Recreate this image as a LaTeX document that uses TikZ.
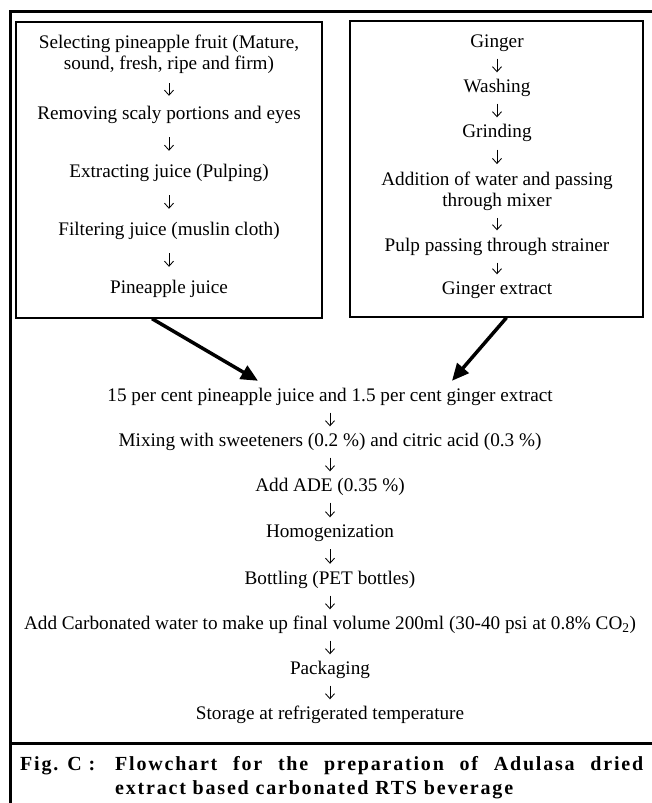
\documentclass[tikz,border=0pt]{standalone}
\usepackage{fontspec}
\setmainfont{Liberation Serif}
\newfontfamily\capfont[LetterSpace=9]{Liberation Serif}
\usetikzlibrary{arrows.meta}
\begin{document}
\begin{tikzpicture}[x=1pt,y=-1pt,
  txt/.style={font=\fontsize{19.2}{20.5}\selectfont, inner sep=0pt, text height=13.5pt, text depth=4.5pt},
  txtb/.style={font=\fontsize{19.2}{20.8}\selectfont, inner sep=0pt, align=center},
  stepbox/.style={draw, line width=1.3pt, inner sep=0pt},
  flowarr/.style={line width=0.85pt, -{Straight Barb[length=5pt,width=9pt]}, shorten <=#1, shorten >=#1},
  bigarr/.style={line width=3.5pt, -{Triangle[length=17pt,width=15pt]}},
  frameline/.style={line width=3pt},
  captxt/.style={font=\capfont\bfseries\fontsize{20}{22}\selectfont, inner sep=0pt}]
\useasboundingbox (0,0) rectangle (652,803);

% outer frame
\draw[frameline] (10,803) -- (10,11.5) -- (652,11.5);
\draw[frameline] (10,743) -- (652,743);

% boxes
\node[stepbox, minimum width=306pt, minimum height=296pt] (lbox) at (169,170) {};
\node[stepbox, minimum width=293pt, minimum height=296pt] (rbox) at (496.5,169) {};

% left box
\node[txtb] (l1) at (169,54) {Selecting pineapple fruit (Mature,\\sound, fresh, ripe and firm)};
\node[txt] (l2) at (169,115) {Removing scaly portions and eyes};
\node[txt] (l3) at (169,173) {Extracting juice (Pulping)};
\node[txt] (l4) at (169,231) {Filtering juice (muslin cloth)};
\node[txt] (l5) at (169,289) {Pineapple juice};
\draw[flowarr=10pt] (l1) -- (l2);
\draw[flowarr=13pt] (l2) -- (l3);
\draw[flowarr=13pt] (l3) -- (l4);
\draw[flowarr=13pt] (l4) -- (l5);

% right box
\node[txt] (r1) at (497,43) {Ginger};
\node[txt] (r2) at (497,88) {Washing};
\node[txt] (r3) at (497,133) {Grinding};
\node[txtb] (r4) at (497,191) {Addition of water and passing\\through mixer};
\node[txt] (r5) at (497,247) {Pulp passing through strainer};
\node[txt] (r6) at (497,290) {Ginger extract};
\draw[flowarr=6.5pt] (r1) -- (r2);
\draw[flowarr=6.5pt] (r2) -- (r3);
\draw[flowarr=7.5pt] (r3) -- (r4);
\draw[flowarr=7.5pt] (r4) -- (r5);
\draw[flowarr=6.5pt] (r5) -- (r6);

% main flow
\node[txt] (m1) at (330,397) {15 per cent pineapple juice and 1.5 per cent ginger extract};
\node[txt] (m2) at (330,442) {Mixing with sweeteners (0.2 \%) and citric acid (0.3 \%)};
\node[txt] (m3) at (330,487) {Add ADE (0.35 \%)};
\node[txt] (m4) at (330,533) {Homogenization};
\node[txt] (m5) at (330,580) {Bottling (PET bottles)};
\node[txt] (m6) at (330,625) {Add Carbonated water to make up final volume 200ml (30-40 psi at 0.8\% CO\textsubscript{2})};
\node[txt] (m7) at (330,670) {Packaging};
\node[txt] (m8) at (330,715) {Storage at refrigerated temperature};
\draw[flowarr=6.5pt] (m1) -- (m2);
\draw[flowarr=6.5pt] (m2) -- (m3);
\draw[flowarr=6.5pt] (m3) -- (m4);
\draw[flowarr=7pt] (m4) -- (m5);
\draw[flowarr=6.5pt] (m5) -- (m6);
\draw[flowarr=6.5pt] (m6) -- (m7);
\draw[flowarr=6.5pt] (m7) -- (m8);

% big arrows
\draw[bigarr] ([xshift=-17pt]lbox.south) -- ([xshift=-72pt,yshift=7pt]m1.north);
\draw[bigarr] ([xshift=10pt]rbox.south) -- ([xshift=122pt,yshift=7pt]m1.north);

% caption
\node[captxt, anchor=base west] (figlbl) at (20,770) {Fig. C :};
\node[captxt, anchor=base west] (cap1) at (115,770) {\makebox[528pt][s]{Flowchart for the preparation of Adulasa dried}};
\node[captxt, anchor=base west] (cap2) at (115,794) {extract based carbonated RTS beverage};
\end{tikzpicture}
\end{document}
